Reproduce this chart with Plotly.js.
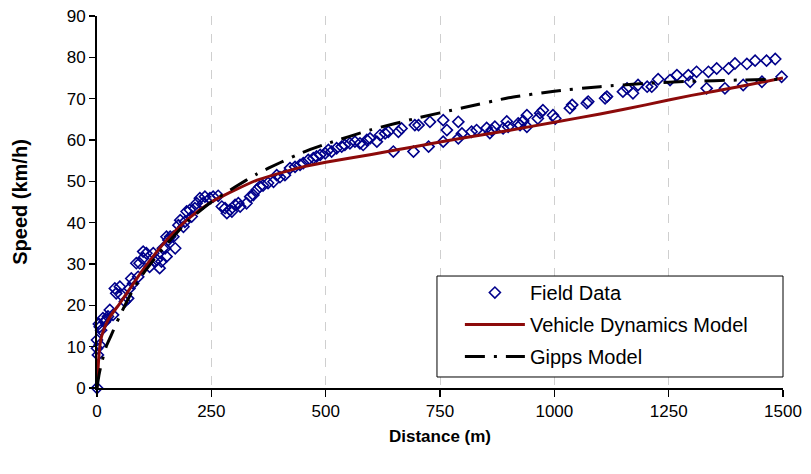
<!DOCTYPE html>
<html>
<head>
<meta charset="utf-8">
<script src="https://cdn.plot.ly/plotly-3.0.1.min.js"></script>
<style>html,body{margin:0;padding:0;background:#fff;}#chart{width:811px;height:474px;}</style>
</head>
<body>
<div id="chart"></div>
<script>
// Field data (distance in m, speed in km/h)
var fieldDistance = [0,0,0,2,4,6,6,9,13,17,20,24,28,35,39,42,50,53,61,68,71,75,79,86,90,93,101,101,108,115,123,126,131,137,141,144,149,152,152,156,160,167,171,178,182,189,192,196,203,207,214,218,225,232,236,247,254,265,273,280,284,291,295,302,309,313,327,335,342,349,356,363,374,386,393,400,411,422,433,444,451,462,473,480,488,499,506,513,524,535,542,553,564,575,582,590,597,612,619,630,637,648,659,666,692,695,703,725,728,757,757,765,790,790,798,819,830,852,859,863,870,888,896,899,921,925,932,940,940,964,969,975,997,1002,1034,1039,1071,1074,1111,1115,1150,1159,1172,1183,1203,1213,1227,1253,1268,1293,1297,1311,1333,1337,1355,1373,1381,1395,1413,1421,1439,1454,1464,1483,1497];
var fieldSpeed = [0,9.6,11.6,8,15.5,10.4,14.8,14,16.9,16,16.5,17.3,18.9,17.7,24.1,22.9,24.5,22.5,20.9,21.7,24.1,26.5,25.3,30.2,26.9,30.2,31.4,33,32.6,29.3,32.6,30.6,31,29,30.6,33.8,33.8,31.8,36.6,35.8,36.6,36.6,33.8,39.4,40.6,39,40.2,42.7,43.1,41.5,43.5,44.7,45.9,44.7,46.3,45.9,46.3,46.5,43.9,43.5,42.3,43.1,42.7,44.3,44.7,43.9,44.7,46.3,46.7,47.9,48.7,49,49.6,49.9,51.5,51,51.5,53.2,53.5,54,54.4,55.2,55.6,56,56.4,56.8,57.6,57.2,58,58.4,58.8,59.2,59.6,59.2,58.8,60,60.4,59.6,61.2,61.6,62,57.2,62,62.8,57.2,63.6,63.6,58.4,64.4,64.8,59.6,62.4,64.4,60.4,61.6,62,62.4,62.9,61.7,62.4,63.2,62.8,64.5,63.2,64,63.6,64.6,63.2,66,65.2,66.5,67.2,66,65.2,67.7,68.5,68.9,69.3,70.1,70.5,71.7,72.5,71.3,73.3,72.9,72.9,74.7,74.5,75.7,75.7,74.1,76.5,72.5,76.5,77.3,72.5,77.3,78.5,73.3,78.4,79.2,74.1,79.2,79.6,75.3];

// Model curves
var modelDistance = [0,2,5,10,20,30,50,75,100,150,200,250,300,350,400,450,500,600,700,800,900,1000,1100,1200,1300,1400,1500];
var vdmSpeed   = [0,4,9,12.5,15.5,17.5,20.5,24.5,28.5,35.5,41,45,47.8,50.3,52,53.5,54.6,56.5,58.5,60.5,62.3,64.3,66.3,68.5,70.8,72.8,75];
var gippsSpeed = [0,1.5,3.5,6,10,12.5,17.5,23,27.5,34.5,40.5,45,48.5,51.8,54.5,57,59,62.5,65.3,67.8,70.2,71.8,72.9,73.7,74.2,74.5,74.7];

var xTicks = [0,250,500,750,1000,1250,1500];
var yTicks = [0,10,20,30,40,50,60,70,80,90];

var fam = "'Liberation Sans', Arial, sans-serif";

var traces = [
  {x: fieldDistance, y: fieldSpeed, name: 'Field Data', mode: 'markers', type: 'scatter',
   legendgroup: 'a', cliponaxis: false,
   marker: {symbol: 'diamond-open', size: 8.5, color: '#00008b', line: {width: 1.6, color: '#00008b'}}},
  {x: modelDistance, y: vdmSpeed, name: 'Vehicle Dynamics Model', mode: 'lines', type: 'scatter',
   legendgroup: 'b', line: {color: '#8c0a0a', width: 3, shape: 'spline', smoothing: 0.6}},
  {x: modelDistance, y: gippsSpeed, name: 'Gipps Model', mode: 'lines', type: 'scatter',
   legendgroup: 'c', line: {color: '#000000', width: 3, dash: '20px,9px,3px,9px', shape: 'spline', smoothing: 0.6}}
];

var layout = {
  width: 811, height: 474,
  margin: {l: 97, r: 28, t: 16, b: 86},
  paper_bgcolor: '#ffffff', plot_bgcolor: '#ffffff',
  showlegend: true,
  font: {family: fam, color: '#000'},
  xaxis: {
    range: [0, 1500], tickvals: xTicks, ticktext: xTicks.map(String),
    showline: true, linecolor: '#000', linewidth: 2, mirror: false,
    ticks: 'outside', ticklen: 7, tickwidth: 1.5, tickcolor: '#000',
    showgrid: true, gridcolor: '#cfcfcf', griddash: 'dash', gridwidth: 1,
    zeroline: false, automargin: false,
    tickfont: {family: fam, size: 17, color: '#000'},
    title: {text: '<b>Distance (m)</b>', font: {family: fam, size: 17, color: '#000'}, standoff: 10}
  },
  yaxis: {
    range: [0, 90], tickvals: yTicks, ticktext: yTicks.map(String),
    showline: true, linecolor: '#000', linewidth: 2,
    ticks: 'outside', ticklen: 6, tickwidth: 1.5, tickcolor: '#000',
    showgrid: false, zeroline: false, automargin: false,
    tickfont: {family: fam, size: 17, color: '#000'},
    title: {text: '<b>Speed (km/h)</b>', font: {family: fam, size: 20, color: '#000'}, standoff: 34}
  },
  shapes: [
    {type: 'rect', xref: 'paper', yref: 'paper', x0: 0.4956, x1: 1.0, y0: 0.0296, y1: 0.301,
     fillcolor: '#ffffff', line: {color: '#000', width: 1}, layer: 'above'}
  ],
  legend: {
    x: 0.529, y: 0.309, xanchor: 'left', yanchor: 'top',
    bgcolor: 'rgba(0,0,0,0)', borderwidth: 0,
    font: {family: fam, size: 20, color: '#000'},
    traceorder: 'grouped', tracegroupgap: 3, itemwidth: 60
  }
};

Plotly.newPlot('chart', traces, layout, {staticPlot: true, displayModeBar: false});
</script>
</body>
</html>
